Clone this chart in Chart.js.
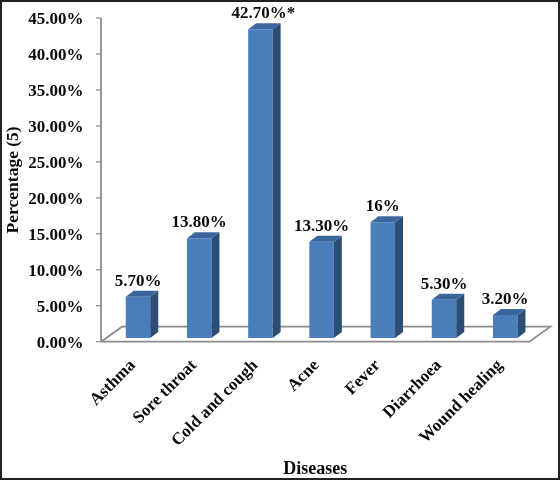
<!DOCTYPE html>
<html>
<head>
<meta charset="utf-8">
<title>Diseases</title>
<script src="https://cdn.jsdelivr.net/npm/chart.js@4"></script>
<style>
	html, body { margin: 0; padding: 0; background: #fff; }
	#wrap { position: relative; width: 560px; height: 480px; outline: 2px solid #222; outline-offset: -2px; }
	canvas { display: block; }
</style>
</head>
<body>
<div id="wrap"><canvas id="chart" width="560" height="480"></canvas></div>
<script>
// ── Data ──────────────────────────────────────────────────────────────────
var categories = [ 'Asthma', 'Sore throat', 'Cold and cough', 'Acne', 'Fever', 'Diarrhoea', 'Wound healing' ];
var values     = [ 5.7, 13.8, 42.7, 13.3, 16, 5.3, 3.2 ];
var barLabels  = [ '5.70%', '13.80%', '42.70%*', '13.30%', '16%', '5.30%', '3.20%' ];
var yTicks     = [ 0, 5, 10, 15, 20, 25, 30, 35, 40, 45 ];
var xTitle     = 'Diseases';
var yTitle     = 'Percentage (5)';

// ── Style ─────────────────────────────────────────────────────────────────
var SERIF      = '"Liberation Serif", "Times New Roman", serif';
var COL_TEXT   = '#0a0a0a';
var COL_FRONT  = '#4a7ebb';
var COL_SIDE   = '#2c4d75';
var COL_TOP    = '#3a669c';
var COL_AXIS   = '#8c8c8c';
var DEPTH_X    = 8;   // side face of the bars
var DEPTH_Y    = 6;
var FLOOR_X    = 21;  // floor parallelogram
var FLOOR_Y    = 15;
var AXIS_SHIFT = 6.4; // the axis sits left of the first category slot

// ── Fake 3D: floor, axis lines, bar sides, value labels ───────────────────
var threeD = {
	id : 'threeD',
	beforeDatasetsDraw : function ( chart ) {
		var c     = chart.ctx;
		var area  = chart.chartArea;
		var yAxis = chart.scales.y;
		var left  = area.left - AXIS_SHIFT;
		var right = area.right - AXIS_SHIFT;
		var floor = yAxis.getPixelForValue( 0 );

		c.save();
		c.strokeStyle = COL_AXIS;
		c.lineWidth   = 1.8;

		// Floor outline.
		c.beginPath();
		c.moveTo( left, floor );
		c.lineTo( left + FLOOR_X, floor - FLOOR_Y );
		c.lineTo( right + FLOOR_X, floor - FLOOR_Y );
		c.lineTo( right, floor );
		c.lineTo( left, floor );
		c.stroke();

		// Value axis and its tick marks.
		c.beginPath();
		c.moveTo( left, yAxis.getPixelForValue( 45 ) );
		c.lineTo( left, floor );
		c.stroke();
		c.lineWidth = 1.2;
		yTicks.forEach( function ( t ) {
			var py = yAxis.getPixelForValue( t );
			c.beginPath();
			c.moveTo( left - 5, py );
			c.lineTo( left, py );
			c.stroke();
		} );

		// Category title is centred on the drawn axis, not the slots.
		c.fillStyle    = COL_TEXT;
		c.font         = 'bold 18px ' + SERIF;
		c.textAlign    = 'center';
		c.textBaseline = 'alphabetic';
		c.fillText( xTitle, ( left + right ) / 2, 474 );
		c.restore();
	},
	afterDatasetsDraw : function ( chart ) {
		var c = chart.ctx;
		chart.getDatasetMeta( 0 ).data.forEach( function ( bar, i ) {
			var x1 = bar.x - bar.width / 2;
			var x2 = bar.x + bar.width / 2;

			c.save();
			c.fillStyle = COL_SIDE;
			c.beginPath();
			c.moveTo( x2, bar.y );
			c.lineTo( x2 + DEPTH_X, bar.y - DEPTH_Y );
			c.lineTo( x2 + DEPTH_X, bar.base - DEPTH_Y );
			c.lineTo( x2, bar.base );
			c.closePath();
			c.fill();

			c.fillStyle = COL_TOP;
			c.beginPath();
			c.moveTo( x1, bar.y );
			c.lineTo( x1 + DEPTH_X, bar.y - DEPTH_Y );
			c.lineTo( x2 + DEPTH_X, bar.y - DEPTH_Y );
			c.lineTo( x2, bar.y );
			c.closePath();
			c.fill();

			c.fillStyle    = COL_TEXT;
			c.font         = 'bold 17px ' + SERIF;
			c.textAlign    = 'center';
			c.textBaseline = 'alphabetic';
			c.fillText( barLabels[ i ], bar.x + ( i === 2 ? 3 : 0 ), bar.y - 11 );
			c.restore();
		} );
	},
};

// ── Chart ─────────────────────────────────────────────────────────────────
new Chart( document.getElementById( 'chart' ).getContext( '2d' ), {
	type : 'bar',
	data : {
		labels   : categories,
		datasets : [ {
			data               : values,
			yAxisID            : 'yBars',
			backgroundColor    : COL_FRONT,
			barPercentage      : 0.4,
			categoryPercentage : 1,
		} ],
	},
	plugins : [ threeD ],
	options : {
		responsive : false,
		animation  : false,
		layout     : { padding : { top : 18, right : 24.2 } },
		plugins    : { legend : { display : false }, tooltip : { enabled : false } },
		scales     : {
			x : {
				grid   : { display : false },
				border : { display : false },
				ticks  : {
					color       : COL_TEXT,
					font        : { family : SERIF, size : 17, weight : 'bold' },
					minRotation : 45,
					maxRotation : 45,
					autoSkip    : false,
					labelOffset : -5,
					padding     : 6,
				},
				afterFit : function ( scale ) { scale.height = 138.3; },
			},
			y : {
				min    : 0,
				max    : 45,
				grid   : { display : false, drawTicks : false },
				border : { display : false },
				ticks  : {
					color       : COL_TEXT,
					font        : { family : SERIF, size : 17, weight : 'bold' },
					stepSize    : 5,
					padding     : 24,
					labelOffset : 2,
					autoSkip    : false,
					callback    : function ( v ) { return v.toFixed( 2 ) + '%'; },
				},
				title : {
					display : true,
					text    : yTitle,
					color   : COL_TEXT,
					font    : { family : SERIF, size : 17.5, weight : 'bold' },
					padding : { top : 3, bottom : 0 },
				},
				afterFit : function ( scale ) {
					scale.width = 107.4;
					// tick padding would otherwise also push the plot down
					scale.paddingTop = 0;
					scale.paddingBottom = 0;
				},
			},
			// Bars stand a little behind the axis zero, on the floor.
			yBars : { display : false, min : -0.51, max : 44.26 },
		},
	},
} );
</script>
</body>
</html>
